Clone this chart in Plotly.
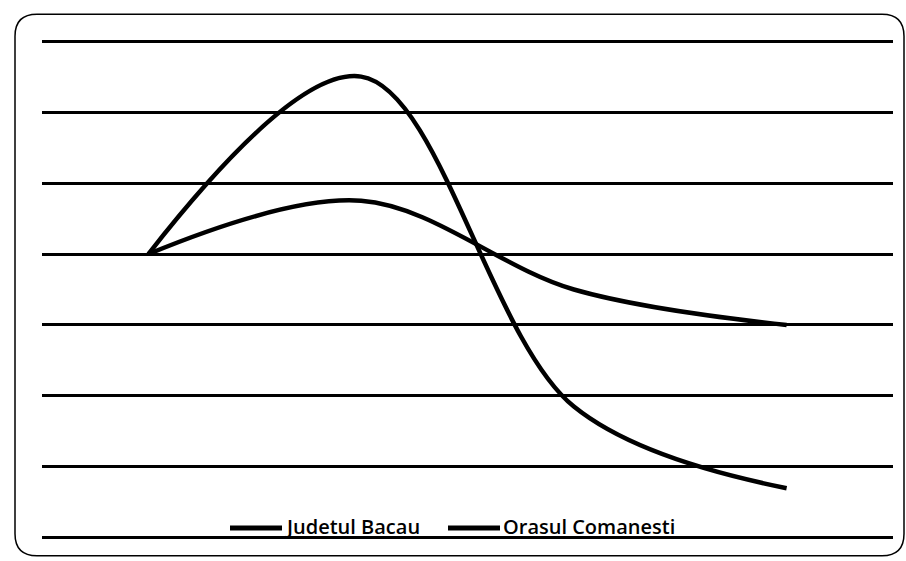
import plotly.graph_objects as go

categories = [0, 1, 2, 3]
judetul_bacau = [4.0, 6.5, 1.85, 0.7]
orasul_comanesti = [4.0, 4.75, 3.5, 3.0]
series_names = ["Judetul Bacau", "Orasul Comanesti"]

W, H = 906, 561
pad = 0.03
L, R = 42, 893
T_px, B_px = 41 - pad * 71, 538 + pad * 71

fig = go.Figure()
for name, vals in zip(series_names, [judetul_bacau, orasul_comanesti]):
    fig.add_trace(go.Scatter(
        x=categories, y=vals, mode="lines", name=name, showlegend=False,
        line=dict(color="black", width=4.5, shape="spline", smoothing=1.0),
    ))

pw = R - L
ph = B_px - T_px
def px(x): return (x - L) / pw
def py(y): return (B_px - y) / ph

# rounded border
x0, x1, y0, y1, r = 15, 904, 14, 556, 22
path = (f"M {px(x0+r)},{py(y0)} L {px(x1-r)},{py(y0)} Q {px(x1)},{py(y0)} {px(x1)},{py(y0+r)} "
        f"L {px(x1)},{py(y1-r)} Q {px(x1)},{py(y1)} {px(x1-r)},{py(y1)} "
        f"L {px(x0+r)},{py(y1)} Q {px(x0)},{py(y1)} {px(x0)},{py(y1-r)} "
        f"L {px(x0)},{py(y0+r)} Q {px(x0)},{py(y0)} {px(x0+r)},{py(y0)} Z")

shapes = [dict(type="path", xref="paper", yref="paper", path=path,
               line=dict(color="black", width=1.5), fillcolor="rgba(0,0,0,0)", layer="above")]
annotations = []
legend_y = 528
for name, (sx0, sx1) in zip(series_names, [(230, 282), (448, 500)]):
    shapes.append(dict(type="line", xref="paper", yref="paper",
                       x0=px(sx0), x1=px(sx1), y0=py(legend_y), y1=py(legend_y),
                       line=dict(color="black", width=5), layer="above"))
    annotations.append(dict(xref="paper", yref="paper", x=px(sx1 + 1), y=py(legend_y - 1),
                            xanchor="left", yanchor="middle", showarrow=False, text=name,
                            font=dict(family="Open Sans", size=20, color="black", weight=600)))

fig.update_layout(
    width=W, height=H,
    margin=dict(l=L, r=W - R, t=T_px, b=H - B_px, pad=0),
    paper_bgcolor="white", plot_bgcolor="white",
    showlegend=False,
    xaxis=dict(range=[-0.5, 3.5], showgrid=False, zeroline=False, showticklabels=False,
               showline=False, ticks=""),
    yaxis=dict(range=[-pad, 7 + pad], tick0=0, dtick=1, showgrid=True, gridcolor="black",
               gridwidth=2.5, zeroline=False, showticklabels=False, showline=False, ticks=""),
    shapes=shapes,
    annotations=annotations,
)

fig.write_html("out.html", config={"displayModeBar": False},
               post_script="document.body.style.margin='0';")
